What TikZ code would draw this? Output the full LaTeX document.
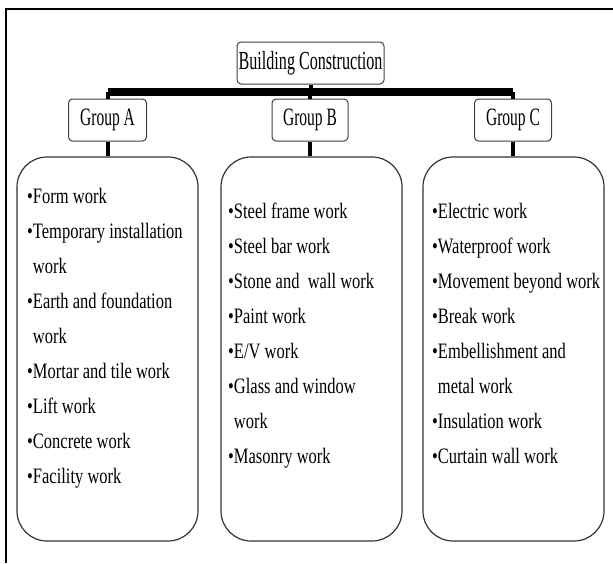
\documentclass[tikz,border=0pt]{standalone}
\usepackage{fontspec}
\setmainfont{Liberation Serif}
\newfontfamily\headfont{Liberation Serif}[FakeStretch=0.62]
\newfontfamily\listfont{Liberation Serif}[FakeStretch=0.75]
\usetikzlibrary{positioning}
\tikzset{
  headbox/.style={draw=black!75,line width=1pt,rounded corners=4pt,fill=white,
    font=\headfont\fontsize{26}{28}\selectfont,inner sep=0pt},
  groupbox/.style={draw=black!75,line width=1pt,rounded corners=4pt,fill=white,
    minimum height=42pt,font=\headfont\fontsize{25}{27}\selectfont,inner sep=0pt},
  listbox/.style={draw=black!80,line width=1.2pt,rounded corners=30pt,
    minimum width=181pt,minimum height=384pt,inner sep=0pt},
  listtext/.style={align=left,anchor=north west,inner sep=0pt,
    font=\listfont\fontsize{22}{35}\selectfont},
  bus/.style={line width=8pt},
  stem/.style={line width=4pt}
}
\newcommand{\cont}{\phantom{•}}
\begin{document}
\begin{tikzpicture}[x=1pt,y=-1pt]
  \useasboundingbox (0,0) rectangle (613,563);
  % outer frame
  \draw[line width=2pt] (6,563) -- (6,9) -- (613,9);
  % heading and groups
  \node[headbox,minimum width=147pt,minimum height=42pt] (bc) at (310.5,63) {Building Construction};
  \node[groupbox,minimum width=78pt] (ga) at (107.5,120) {Group A};
  \node[groupbox,minimum width=76pt] (gb) at (310,120) {Group B};
  \node[groupbox,minimum width=77pt] (gc) at (513,120) {Group C};
  % lists
  \node[listbox] (la) at (107.5,349) {};
  \node[listbox] (lb) at (311.5,349) {};
  \node[listbox] (lc) at (513.5,349) {};
  \node[listtext] (ta) at (27,188) {•Form work\\•Temporary installation\\\cont work\\%
    •Earth and foundation\\\cont work\\•Mortar and tile work\\•Lift work\\%
    •Concrete work\\•Facility work};
  \node[listtext] (tb) at (228,203) {•Steel frame work\\•Steel bar work\\%
    •Stone and\ \ wall work\\•Paint work\\•E/V work\\•Glass and window\\%
    \cont work\\•Masonry work};
  \node[listtext] (tc) at (432,203) {•Electric work\\•Waterproof work\\%
    •Movement beyond work\\•Break work\\•Embellishment and\\\cont metal work\\%
    •Insulation work\\•Curtain wall work};
  % connectors
  \path (ga.north) ++(0,-7) coordinate (busL);
  \path (gc.north) ++(0,-7) coordinate (busR);
  \draw[bus] (busL) -- (busR);
  \draw[stem] (bc.south) -- (bc.south |- busL);
  \foreach \g/\l in {ga/la,gb/lb,gc/lc}{
    \draw[stem] (\g.north) -- (\g.north |- busL);
    \draw[stem] (\g.south) -- (\l.north -| \g.south);
  }
\end{tikzpicture}
\end{document}
